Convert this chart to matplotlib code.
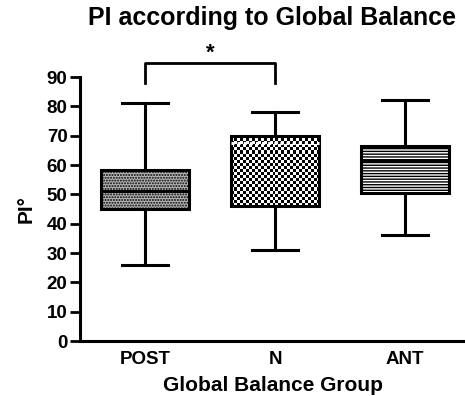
import matplotlib
matplotlib.use("Agg")
import matplotlib.pyplot as plt
import numpy as np

plt.rcParams['font.family'] = ['Liberation Sans', 'DejaVu Sans']
plt.rcParams['font.weight'] = 'bold'
plt.rcParams['hatch.linewidth'] = 1.0

groups = ["POST", "N", "ANT"]
whis_low = [26, 31, 36]
q1 = [45, 46, 50.5]
medians = [51, 67.5, 61.5]
q3 = [58.3, 70, 66.5]
whis_high = [81, 78, 82]

face_colors = ["#b8b8b8", "none", "white"]
hatches = ["......", "", "------"]

stats = []
for i, g in enumerate(groups):
    stats.append({"label": g, "whislo": whis_low[i], "q1": q1[i], "med": medians[i],
                  "q3": q3[i], "whishi": whis_high[i], "fliers": []})

fig = plt.figure(figsize=(4.65, 3.96), dpi=100)
ax = fig.add_axes([80 / 465, 55 / 396, 385 / 465, 264 / 396])

lw = 2.2
width = 0.68
bp = ax.bxp(stats, positions=[0, 1, 2], widths=width, patch_artist=True, showfliers=False,
            boxprops=dict(linewidth=lw, edgecolor="black"),
            medianprops=dict(color="black", linewidth=lw),
            whiskerprops=dict(linewidth=lw, color="black"),
            capprops=dict(linewidth=lw, color="black"), capwidths=0.35)
for patch, fc, h in zip(bp["boxes"], face_colors, hatches):
    patch.set_facecolor(fc)
    patch.set_hatch(h)

# checkerboard fill for the N box
i = 1
rows = int((q3[i] - q1[i]) * 2.93 / 3)
cols = 30
yy, xx = np.indices((rows, cols))
checker = (yy + xx) % 2
im = ax.imshow(checker, cmap="gray", extent=(i - width / 2, i + width / 2, q1[i], q3[i]),
               aspect="auto", interpolation="nearest", zorder=1.5)
im.set_clip_path(bp["boxes"][i])
bp["medians"][i].set_linestyle((0, (1, 1)))
bp["medians"][i].set_color("white")

ax.set_xlim(-0.5, 2.5 - 5 / 130)
ax.set_ylim(0, 90)
ax.set_yticks(range(0, 91, 10))
ax.set_xticks([0, 1, 2])
ax.set_xticklabels(groups)
for s in ["top", "right"]:
    ax.spines[s].set_visible(False)
for s in ["left", "bottom"]:
    ax.spines[s].set_linewidth(2.2)
ax.tick_params(axis="y", width=2, length=7, labelsize=13.5, pad=2)
ax.tick_params(axis="x", length=0, labelsize=13.5, pad=7)

ax.set_ylabel("PI°", fontsize=15, fontweight="bold", labelpad=8)
ax.set_xlabel("Global Balance Group", fontsize=15, fontweight="bold", labelpad=6)
fig.text(272 / 465, 1 - 18 / 396, "PI according to Global Balance", ha="center", va="center",
         fontsize=18, fontweight="bold")

# significance bracket
ax.plot([0, 0, 1, 1], [88, 94.8, 94.8, 88], color="black", lw=2, clip_on=False)
ax.text(0.5, 98, "*", ha="center", va="center", fontsize=16, fontweight="bold")

fig.savefig("out.png", dpi=100)
